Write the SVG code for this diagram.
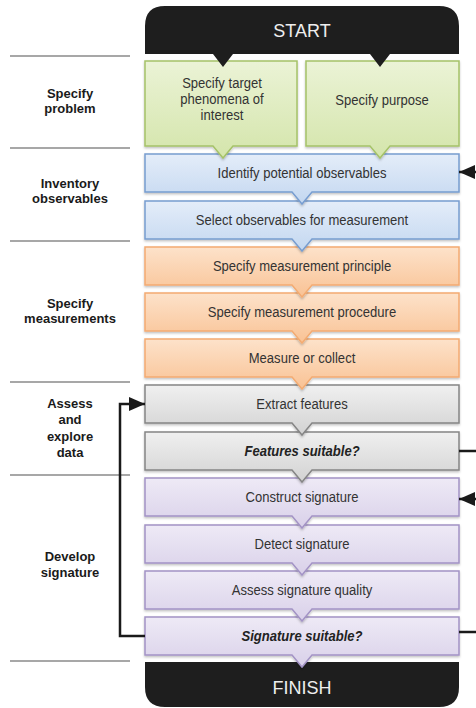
<svg xmlns="http://www.w3.org/2000/svg" width="476" height="708" viewBox="0 0 476 708">
<defs>
<linearGradient id="gGreen" x1="0" y1="0" x2="0" y2="1"><stop offset="0" stop-color="#ebf3d6"/><stop offset="1" stop-color="#d4e5ab"/></linearGradient>
<linearGradient id="gBlue" x1="0" y1="0" x2="0" y2="1"><stop offset="0" stop-color="#e4edf9"/><stop offset="1" stop-color="#c3d7f0"/></linearGradient>
<linearGradient id="gOrange" x1="0" y1="0" x2="0" y2="1"><stop offset="0" stop-color="#fde2ca"/><stop offset="1" stop-color="#f9c294"/></linearGradient>
<linearGradient id="gGrey" x1="0" y1="0" x2="0" y2="1"><stop offset="0" stop-color="#f0f0f0"/><stop offset="1" stop-color="#d2d2d2"/></linearGradient>
<linearGradient id="gPurple" x1="0" y1="0" x2="0" y2="1"><stop offset="0" stop-color="#eeeaf6"/><stop offset="1" stop-color="#d9d0e9"/></linearGradient>
<filter id="sh" x="-5%" y="-10%" width="110%" height="130%"><feDropShadow dx="0" dy="1.5" stdDeviation="1.2" flood-color="#000" flood-opacity="0.25"/></filter>
<marker id="arr" markerUnits="userSpaceOnUse" markerWidth="16" markerHeight="14" refX="16" refY="7" orient="auto"><path d="M0,0 L16,7 L0,14 Z" fill="#1a1a1a"/></marker>
</defs>
<style>
.green{fill:url(#gGreen);stroke:#a5c268;stroke-width:1.5;filter:url(#sh)}
.blue{fill:url(#gBlue);stroke:#779dd0;stroke-width:1.5;filter:url(#sh)}
.orange{fill:url(#gOrange);stroke:#f3ab72;stroke-width:1.5;filter:url(#sh)}
.grey{fill:url(#gGrey);stroke:#858585;stroke-width:1.5;filter:url(#sh)}
.purple{fill:url(#gPurple);stroke:#a393c5;stroke-width:1.5;filter:url(#sh)}
.black{fill:#1e1e1e}
.t,.ti{font-family:"Liberation Sans",Arial,sans-serif;font-size:14.5px;fill:#333;text-anchor:middle;transform:scaleX(0.9);transform-box:fill-box;transform-origin:center}
.ti{fill:#222;font-weight:bold;font-style:italic}
.tw{font-family:"Liberation Sans",Arial,sans-serif;font-size:18px;fill:#eeeeee;text-anchor:middle}
.lab{font-family:"Liberation Sans",Arial,sans-serif;font-size:13px;fill:#1a1a1a;text-anchor:middle;font-weight:bold}
.sep{stroke:#8a8a8a;stroke-width:1.5}
.con{fill:none;stroke:#1a1a1a;stroke-width:2.5}
</style>

<g id="stages">
<line class="sep" x1="10" y1="56" x2="130" y2="56"/>
<line class="sep" x1="10" y1="148" x2="130" y2="148"/>
<line class="sep" x1="10" y1="241" x2="130" y2="241"/>
<line class="sep" x1="10" y1="382" x2="130" y2="382"/>
<line class="sep" x1="10" y1="475" x2="130" y2="475"/>
<line class="sep" x1="10" y1="661" x2="130" y2="661"/>
<g id="stage-problem"><text class="lab" x="70" y="97.5">Specify</text><text class="lab" x="70" y="112.5">problem</text></g>
<g id="stage-inventory"><text class="lab" x="70" y="187.5">Inventory</text><text class="lab" x="70" y="202.5">observables</text></g>
<g id="stage-measure"><text class="lab" x="70" y="307.5">Specify</text><text class="lab" x="70" y="322.5">measurements</text></g>
<g id="stage-assess"><text class="lab" x="70" y="407.5">Assess</text><text class="lab" x="70" y="424">and</text><text class="lab" x="70" y="440.5">explore</text><text class="lab" x="70" y="456.5">data</text></g>
<g id="stage-develop"><text class="lab" x="70" y="560.5">Develop</text><text class="lab" x="70" y="576.5">signature</text></g>
</g>

<g id="finish"><path class="black" d="M145,662 H459 V687 Q459,707 439,707 H165 Q145,707 145,687 Z"/><text class="tw" x="302" y="693.5">FINISH</text></g>

<g id="sig-suitable"><path class="purple" d="M145,617 H459 V655 H312 L302,667 L292,655 H145 Z"/><text class="ti" x="302" y="641">Signature suitable?</text></g>
<g id="assess-quality"><path class="purple" d="M145,571 H459 V609 H312 L302,621 L292,609 H145 Z"/><text class="t" x="302" y="595">Assess signature quality</text></g>
<g id="detect"><path class="purple" d="M145,525 H459 V563 H312 L302,575 L292,563 H145 Z"/><text class="t" x="302" y="549">Detect signature</text></g>
<g id="construct"><path class="purple" d="M145,478 H459 V516 H312 L302,528 L292,516 H145 Z"/><text class="t" x="302" y="502">Construct signature</text></g>
<g id="feat-suitable"><path class="grey" d="M145,432 H459 V470 H312 L302,482 L292,470 H145 Z"/><text class="ti" x="302" y="456">Features suitable?</text></g>
<g id="extract"><path class="grey" d="M145,385 H459 V423 H312 L302,435 L292,423 H145 Z"/><text class="t" x="302" y="409">Extract features</text></g>
<g id="measure"><path class="orange" d="M145,339 H459 V377 H312 L302,389 L292,377 H145 Z"/><text class="t" x="302" y="363">Measure or collect</text></g>
<g id="procedure"><path class="orange" d="M145,293 H459 V331 H312 L302,343 L292,331 H145 Z"/><text class="t" x="302" y="317">Specify measurement procedure</text></g>
<g id="principle"><path class="orange" d="M145,247 H459 V285 H312 L302,297 L292,285 H145 Z"/><text class="t" x="302" y="271">Specify measurement principle</text></g>
<g id="select"><path class="blue" d="M145,201 H459 V239 H312 L302,251 L292,239 H145 Z"/><text class="t" x="302" y="225">Select observables for measurement</text></g>
<g id="identify"><path class="blue" d="M145,154 H459 V192 H312 L302,204 L292,192 H145 Z"/><text class="t" x="302" y="178">Identify potential observables</text></g>
<g id="target"><path class="green" d="M145,61 H297 V146 H233 L223,158 L213,146 H145 Z"/><text class="t" x="222" y="88.5">Specify target</text><text class="t" x="222" y="104.5">phenomena of</text><text class="t" x="222" y="120.5">interest</text></g>
<g id="purpose"><path class="green" d="M306,61 H459 V146 H390 L380,158 L370,146 H306 Z"/><text class="t" x="382" y="105">Specify purpose</text></g>
<g id="start"><path class="black" d="M145,54 V26 Q145,6 165,6 H439 Q459,6 459,26 V54 H390 L380,67 L370,54 H233 L223,67 L213,54 Z"/><text class="tw" x="302" y="36.5">START</text></g>

<g id="connectors">
<path class="con" d="M145,636 H120 V404 H145" marker-end="url(#arr)"/>
<path class="con" d="M459,451 H478"/>
<path class="con" d="M478,632 H459"/>
<path class="con" d="M480,499 H459" marker-end="url(#arr)"/>
<path class="con" d="M480,172 H459" marker-end="url(#arr)"/>
</g>
</svg>
